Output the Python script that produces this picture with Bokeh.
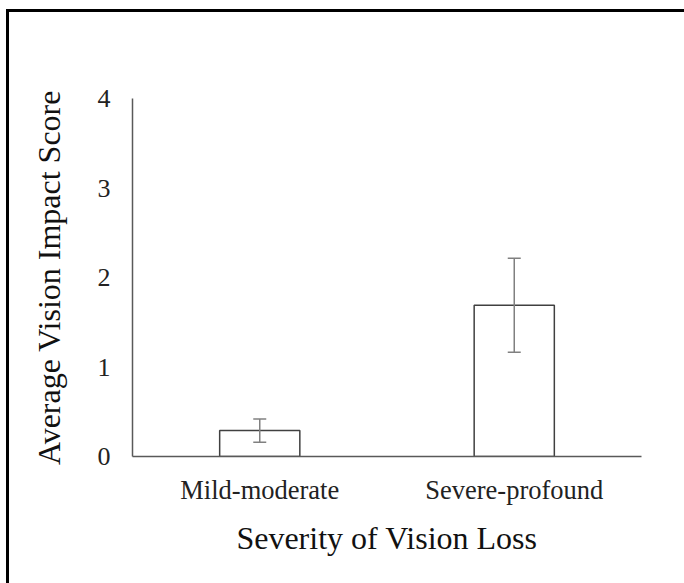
from bokeh.plotting import figure
from bokeh.models import ColumnDataSource, FactorRange, Whisker, TeeHead, Range1d, Spacer
from bokeh.layouts import column, row
from bokeh.embed import file_html
from bokeh.resources import INLINE

categories = ["Mild-moderate", "Severe-profound"]
means = [0.29, 1.69]
errors = [0.13, 0.525]
y_ticks = [0, 1, 2, 3, 4]

upper = [m + e for m, e in zip(means, errors)]
lower = [m - e for m, e in zip(means, errors)]
src = ColumnDataSource(dict(x=categories, top=means, upper=upper, lower=lower))

FONT = "Liberation Serif"

p = figure(x_range=FactorRange(*categories), y_range=Range1d(0, 4),
           width=675, height=571, output_backend="svg", toolbar_location=None,
           min_border_left=123, min_border_right=43, min_border_top=86, min_border_bottom=127)

p.vbar(x="x", top="top", width=0.315, source=src, fill_color="white",
       line_color="#404040", line_width=1.5)

w = Whisker(base="x", upper="upper", lower="lower", source=src, level="overlay",
            line_color="#808080", line_width=1.5,
            upper_head=TeeHead(size=13, line_color="#808080", line_width=1.5),
            lower_head=TeeHead(size=13, line_color="#808080", line_width=1.5))
p.add_layout(w)

p.grid.visible = False
p.outline_line_color = None
p.background_fill_color = "white"
p.border_fill_color = "white"

for ax in (p.xaxis[0], p.yaxis[0]):
    ax.axis_line_color = "#595959"
    ax.axis_line_width = 1.5
    ax.major_tick_line_color = None
    ax.minor_tick_line_color = None
    ax.major_tick_out = 0
    ax.major_tick_in = 0
    ax.major_label_text_font = FONT
    ax.major_label_text_color = "#222222"
    ax.axis_label_text_font = FONT
    ax.axis_label_text_font_style = "normal"
    ax.axis_label_text_color = "#111111"

p.yaxis.ticker = y_ticks
p.yaxis.major_label_text_font_size = "26px"
p.yaxis.major_label_standoff = 22
p.yaxis.axis_label = "Average Vision Impact Score"
p.yaxis.axis_label_text_font_size = "32px"
p.yaxis.axis_label_standoff = 28

p.xaxis.major_label_text_font_size = "26.5px"
p.xaxis.major_label_standoff = 18
p.xaxis.axis_label = "Severity of Vision Loss"
p.xaxis.axis_label_text_font_size = "32px"
p.xaxis.axis_label_standoff = 12

# outer frame: black top and left strips
top_strip = Spacer(width=678, height=3, styles={"background-color": "black"})
left_strip = Spacer(width=3, height=571, styles={"background-color": "black"})
layout = column(
    Spacer(width=684, height=9),
    row(Spacer(width=6, height=574),
        column(top_strip, row(left_strip, p, spacing=0), spacing=0),
        spacing=0),
    spacing=0,
)

open("out.html", "w").write(file_html(layout, INLINE))
